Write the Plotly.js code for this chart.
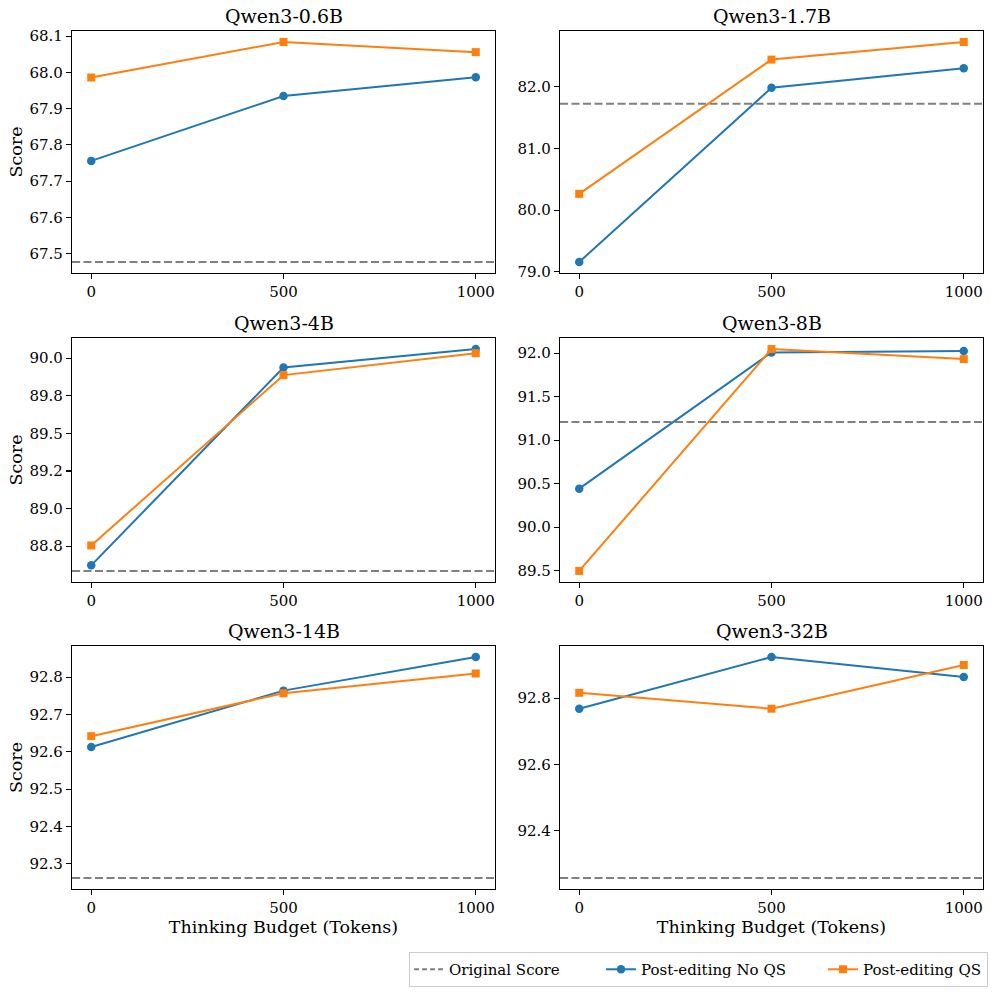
<!DOCTYPE html>
<html><head><meta charset="utf-8">
<script src="https://cdn.plot.ly/plotly-3.0.1.min.js"></script>
<style>body{margin:0;padding:0;background:#fff}#chart{width:996px;height:995px}</style>
</head><body><div id="chart"></div>
<script>
// ---------- data ----------
const budgets = [0, 500, 1000];
const xTickVals = [0, 500, 1000];
const xTickText = ["0", "500", "1000"];
const models = ["Qwen3-0.6B", "Qwen3-1.7B", "Qwen3-4B", "Qwen3-8B", "Qwen3-14B", "Qwen3-32B"];
const originalScore = [67.477, 81.726, 88.586, 91.208, 92.262, 92.257];

const noQS_06B = [67.756, 67.935, 67.987];
const noQS_17B = [79.161, 81.984, 82.302];
const noQS_4B  = [88.623, 89.938, 90.060];
const noQS_8B  = [90.442, 92.008, 92.023];
const noQS_14B = [92.613, 92.764, 92.854];
const noQS_32B = [92.768, 92.924, 92.864];

const qs_06B = [67.986, 68.084, 68.056];
const qs_17B = [80.265, 82.441, 82.726];
const qs_4B  = [88.755, 89.887, 90.033];
const qs_8B  = [89.497, 92.046, 91.931];
const qs_14B = [92.642, 92.757, 92.810];
const qs_32B = [92.816, 92.768, 92.900];

const yTickVals_06B = [67.5, 67.6, 67.7, 67.8, 67.9, 68.0, 68.1];
const yTickText_06B = ["67.5", "67.6", "67.7", "67.8", "67.9", "68.0", "68.1"];
const yTickVals_17B = [79, 80, 81, 82];
const yTickText_17B = ["79.0", "80.0", "81.0", "82.0"];
const yTickVals_4B  = [88.75, 89.0, 89.25, 89.5, 89.75, 90.0];
const yTickText_4B  = ["88.8", "89.0", "89.2", "89.5", "89.8", "90.0"];
const yTickVals_8B  = [89.5, 90.0, 90.5, 91.0, 91.5, 92.0];
const yTickText_8B  = ["89.5", "90.0", "90.5", "91.0", "91.5", "92.0"];
const yTickVals_14B = [92.3, 92.4, 92.5, 92.6, 92.7, 92.8];
const yTickText_14B = ["92.3", "92.4", "92.5", "92.6", "92.7", "92.8"];
const yTickVals_32B = [92.4, 92.6, 92.8];
const yTickText_32B = ["92.4", "92.6", "92.8"];

const seriesNames = ["Original Score", "Post-editing No QS", "Post-editing QS"];

// ---------- assembly ----------
const noQS = [noQS_06B, noQS_17B, noQS_4B, noQS_8B, noQS_14B, noQS_32B];
const qs = [qs_06B, qs_17B, qs_4B, qs_8B, qs_14B, qs_32B];
const yTV = [yTickVals_06B, yTickVals_17B, yTickVals_4B, yTickVals_8B, yTickVals_14B, yTickVals_32B];
const yTT = [yTickText_06B, yTickText_17B, yTickText_4B, yTickText_8B, yTickText_14B, yTickText_32B];

const W = 996, H = 995;
const colX = [[72, 495], [560, 983]];
const rowY = [[31, 273], [338, 582], [646, 889]];
const FONT = "DejaVu Serif, serif";
const BLUE = "#1f77b4", ORANGE = "#ff7f0e", GRAY = "#808080";

const traces = [];
const shapes = [];
const annotations = [];
const layout = {
  width: W, height: H,
  margin: {l: 0, r: 0, t: 0, b: 0},
  paper_bgcolor: "#fff", plot_bgcolor: "#fff",
  font: {family: FONT, color: "#000", size: 15},
  showlegend: true,
  legend: {
    orientation: "h", x: 0.992, xanchor: "right", y: 0.008, yanchor: "bottom",
    bordercolor: "#cccccc", borderwidth: 1, font: {family: FONT, size: 15, color: "#000"},
    bgcolor: "#fff", itemwidth: 30, tracegroupgap: 0
  },
  shapes: shapes, annotations: annotations
};

function pad(vals) {
  const mn = Math.min(...vals), mx = Math.max(...vals);
  const m = (mx - mn) * 0.05;
  return [mn - m, mx + m];
}

for (let i = 0; i < 6; i++) {
  const r = Math.floor(i / 2), c = i % 2;
  const sfx = i === 0 ? "" : String(i + 1);
  const xa = "x" + sfx, ya = "y" + sfx;
  const xd = [colX[c][0] / W, colX[c][1] / W];
  const yd = [1 - rowY[r][1] / H, 1 - rowY[r][0] / H];
  const xr = pad(budgets);
  const yr = pad(noQS[i].concat(qs[i], [originalScore[i]]));

  layout["xaxis" + sfx] = {
    domain: xd, anchor: ya, range: xr,
    tickvals: xTickVals, ticktext: xTickText,
    showgrid: false, zeroline: false,
    showline: true, mirror: true, linecolor: "#000", linewidth: 1.1,
    ticks: "outside", ticklen: 5, tickwidth: 1.1, tickcolor: "#000",
    tickfont: {family: FONT, size: 15, color: "#000"},
    title: r === 2 ? {text: "Thinking Budget (Tokens)", font: {family: FONT, size: 17.5, color: "#000"}, standoff: 3} : {text: ""}
  };
  layout["yaxis" + sfx] = {
    domain: yd, anchor: xa, range: yr,
    tickvals: yTV[i], ticktext: yTT[i],
    showgrid: false, zeroline: false,
    showline: true, mirror: true, linecolor: "#000", linewidth: 1.1,
    ticks: "outside", ticklen: 5, tickwidth: 1.1, tickcolor: "#000",
    tickfont: {family: FONT, size: 15, color: "#000"},
    title: c === 0 ? {text: "Score", font: {family: FONT, size: 17.5, color: "#000"}, standoff: 2} : {text: ""}
  };

  shapes.push({
    type: "line", xref: xa + " domain", yref: ya,
    x0: 0, x1: 1, y0: originalScore[i], y1: originalScore[i],
    line: {color: GRAY, width: 2, dash: "8px,3.5px"}, layer: "below"
  });

  traces.push({
    type: "scatter", mode: "lines+markers", x: budgets, y: noQS[i],
    xaxis: xa, yaxis: ya, name: seriesNames[1], legendgroup: "noqs", showlegend: i === 0,
    legendwidth: 177,
    line: {color: BLUE, width: 2}, marker: {symbol: "circle", size: 8.5, color: BLUE}
  });
  traces.push({
    type: "scatter", mode: "lines+markers", x: budgets, y: qs[i],
    xaxis: xa, yaxis: ya, name: seriesNames[2], legendgroup: "qs", showlegend: i === 0,
    line: {color: ORANGE, width: 2}, marker: {symbol: "square", size: 8, color: ORANGE}
  });

  annotations.push({
    text: models[i], xref: "paper", yref: "paper",
    x: (xd[0] + xd[1]) / 2, y: yd[1], xanchor: "center", yanchor: "bottom",
    yshift: 2, showarrow: false, font: {family: FONT, size: 19, color: "#000"}
  });
}

// legend-only entry for the dashed reference line
traces.unshift({
  type: "scatter", mode: "lines", x: [null], y: [null], xaxis: "x", yaxis: "y",
  name: seriesNames[0], legendgroup: "orig", showlegend: true, legendwidth: 147,
  line: {color: GRAY, width: 2, dash: "5px,3px"}, hoverinfo: "skip"
});

Plotly.newPlot("chart", traces, layout, {staticPlot: true, displayModeBar: false});
</script>
</body></html>
